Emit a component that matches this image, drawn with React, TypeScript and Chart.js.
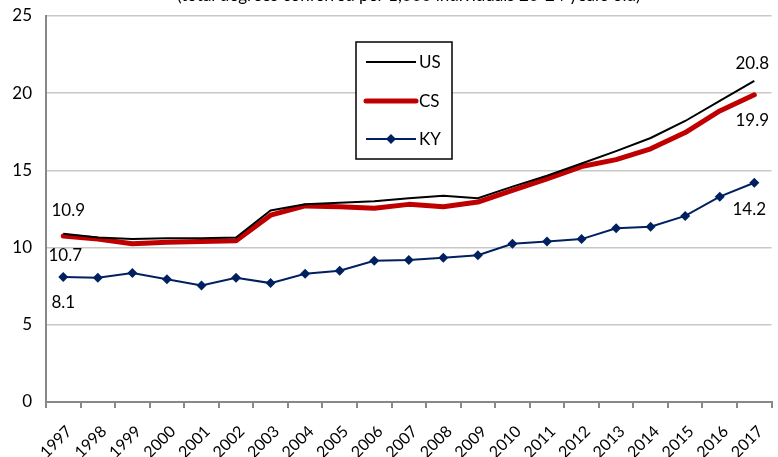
import React, { useEffect, useRef } from "react";
import { Chart, registerables } from "chart.js";

Chart.register(...registerables);

const years = ["1997","1998","1999","2000","2001","2002","2003","2004","2005","2006","2007","2008","2009","2010","2011","2012","2013","2014","2015","2016","2017"];
const usValues = [10.9, 10.65, 10.55, 10.6, 10.6, 10.65, 12.4, 12.8, 12.9, 13.0, 13.2, 13.35, 13.2, 13.95, 14.65, 15.45, 16.25, 17.1, 18.2, 19.5, 20.8];
const csValues = [10.75, 10.55, 10.25, 10.35, 10.4, 10.45, 12.1, 12.7, 12.65, 12.55, 12.8, 12.65, 12.95, 13.7, 14.45, 15.25, 15.7, 16.4, 17.45, 18.85, 19.9];
const kyValues = [8.1, 8.05, 8.35, 7.95, 7.55, 8.05, 7.7, 8.3, 8.5, 9.15, 9.2, 9.35, 9.5, 10.25, 10.4, 10.55, 11.25, 11.35, 12.05, 13.3, 14.2];
const seriesNames = ["US", "CS", "KY"];
const titleText = "(total degrees conferred per 1,000 individuals 20-24 years old)";
const endLabels = [
  { ds: 0, idx: 0, text: "10.9", dx: 5, dy: -23 },
  { ds: 1, idx: 0, text: "10.7", dx: 2, dy: 19 },
  { ds: 2, idx: 0, text: "8.1", dx: 0, dy: 26 },
  { ds: 0, idx: 20, text: "20.8", dx: -2, dy: -17 },
  { ds: 1, idx: 20, text: "19.9", dx: -2, dy: 26 },
  { ds: 2, idx: 20, text: "14.2", dx: -5, dy: 27 },
];

const FONT = "Lato, 'Open Sans', sans-serif";
const US_COLOR = "#000000";
const CS_COLOR = "#C00000";
const KY_COLOR = "#002060";

const overlayPlugin = {
  id: "overlay",
  afterDatasetsDraw(chart: any) {
    const ctx = chart.ctx;
    const area = chart.chartArea;
    ctx.save();
    ctx.fillStyle = "#000";
    ctx.font = `17px ${FONT}`;
    ctx.textAlign = "center";
    ctx.textBaseline = "alphabetic";
    ctx.fillText(titleText, (area.left + area.right) / 2, 1);

    ctx.font = `17px ${FONT}`;
    ctx.textBaseline = "middle";
    endLabels.forEach((l) => {
      const el = chart.getDatasetMeta(l.ds).data[l.idx];
      if (!el) return;
      ctx.fillText(l.text, el.x + l.dx, el.y + l.dy);
    });

    const bx = 356, by = 42, bw = 96, bh = 117;
    ctx.fillStyle = "#fff";
    ctx.fillRect(bx, by, bw, bh);
    ctx.strokeStyle = "#000";
    ctx.lineWidth = 1.5;
    ctx.strokeRect(bx, by, bw, bh);
    const items = [
      { name: seriesNames[0], color: US_COLOR, width: 2, y: 62, marker: false },
      { name: seriesNames[1], color: CS_COLOR, width: 5, y: 101, marker: false },
      { name: seriesNames[2], color: KY_COLOR, width: 2, y: 139, marker: true },
    ];
    items.forEach((it) => {
      ctx.strokeStyle = it.color;
      ctx.lineWidth = it.width;
      ctx.lineCap = it.width > 3 ? "round" : "butt";
      ctx.beginPath();
      ctx.moveTo(366, it.y);
      ctx.lineTo(416, it.y);
      ctx.stroke();
      if (it.marker) {
        ctx.fillStyle = it.color;
        ctx.beginPath();
        ctx.moveTo(391, it.y - 5);
        ctx.lineTo(396, it.y);
        ctx.lineTo(391, it.y + 5);
        ctx.lineTo(386, it.y);
        ctx.closePath();
        ctx.fill();
      }
      ctx.fillStyle = "#000";
      ctx.font = `17px ${FONT}`;
      ctx.textAlign = "left";
      ctx.textBaseline = "middle";
      ctx.fillText(it.name, 419, it.y + 1);
    });
    ctx.restore();
  },
};

export default function App() {
  const ref = useRef<HTMLCanvasElement | null>(null);
  useEffect(() => {
    document.body.style.margin = "0";
    const canvas = ref.current;
    if (!canvas) return;
    const chart = new Chart(canvas, {
      type: "line",
      data: {
        labels: years,
        datasets: [
          { label: seriesNames[0], data: usValues, borderColor: US_COLOR, borderWidth: 2, pointRadius: 0, order: 0 },
          {
            label: seriesNames[1], data: csValues, borderColor: CS_COLOR, borderWidth: 5, pointRadius: 0,
            borderCapStyle: "round", borderJoinStyle: "round", order: 1,
          },
          {
            label: seriesNames[2], data: kyValues, borderColor: KY_COLOR, backgroundColor: KY_COLOR, borderWidth: 2,
            pointStyle: "rectRot", pointRadius: 5, pointBorderWidth: 0, order: 2,
          },
        ],
      },
      options: {
        responsive: false,
        animation: false,
        layout: { padding: { top: 16, right: 2, left: 0, bottom: 0 } },
        plugins: { legend: { display: false }, tooltip: { enabled: false }, title: { display: false } },
        scales: {
          x: {
            type: "category",
            offset: true,
            grid: { offset: true, drawOnChartArea: false, drawTicks: true, tickLength: 6, color: "#888", lineWidth: 2 },
            border: { color: "#888", width: 2 },
            ticks: {
              minRotation: 45, maxRotation: 45, autoSkip: false, padding: 14, labelOffset: 6, color: "#000",
              font: { family: FONT, size: 16 },
            },
            afterFit(scale: any) { scale.height = 55; },
          },
          y: {
            min: 0,
            max: 25,
            ticks: { stepSize: 5, padding: 0, color: "#000", font: { family: FONT, size: 17 } },
            grid: { drawTicks: true, tickLength: 14, tickColor: "rgba(0,0,0,0)", color: "#c8c8c8", lineWidth: 1.5 },
            border: { color: "#888", width: 2 },
            afterFit(scale: any) { scale.width = 46; },
          },
        },
      },
      plugins: [overlayPlugin],
    });
    return () => chart.destroy();
  }, []);
  return (
    <div style={{ width: 778, height: 457, overflow: "hidden", background: "#fff" }}>
      <canvas ref={ref} width={782} height={457} style={{ display: "block" }} />
    </div>
  );
}
